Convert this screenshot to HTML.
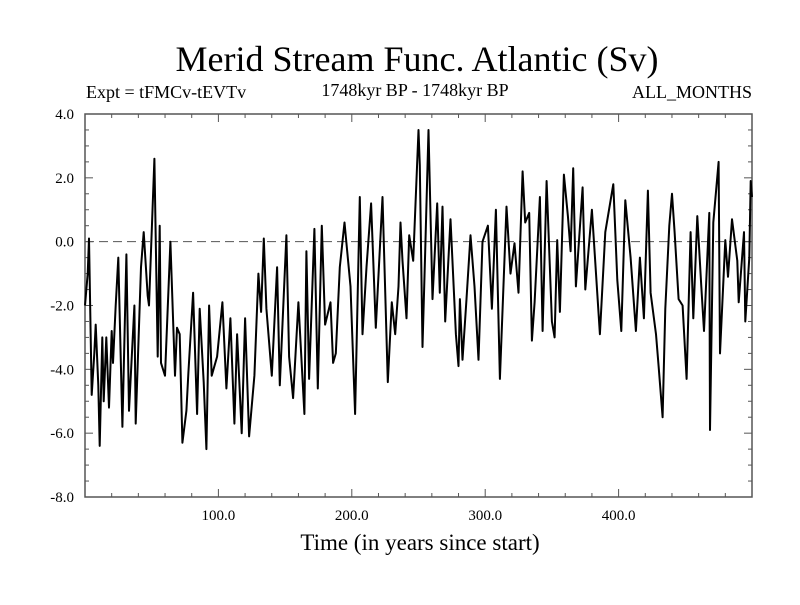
<!DOCTYPE html>
<html><head><meta charset="utf-8"><style>
body{margin:0;background:#fff}
svg text{font-family:"Liberation Serif",serif;fill:#000}
</style></head><body>
<svg id="chart" width="800" height="600">
<rect width="800" height="600" fill="#fff"/>
<text x="417" y="71" font-size="36" text-anchor="middle">Merid Stream Func. Atlantic (Sv)</text>
<text x="86" y="98" font-size="18">Expt = tFMCv-tEVTv</text>
<text x="415" y="96" font-size="18" text-anchor="middle">1748kyr BP - 1748kyr BP</text>
<text x="752" y="98" font-size="18" text-anchor="end">ALL_MONTHS</text>
<text x="420" y="550" font-size="23" text-anchor="middle">Time (in years since start)</text>
<g id="axes"></g>
<g id="series"></g>
</svg>
<script>
const years=[0,2,3,5,7,8,10,11,13,14,16,18,20,21,23,25,28,31,33,37,38,42,44,47,48,52,54.5,56,57,60,64,67.5,69,71,73,76,77.5,81,84,86,89,91,93,95,99,103,106,109,112,114,117.5,120,123,127,130,132,134,136,140,144,146,151,153,156,160,164.5,166,168,172,174.5,177.5,180,184,186,188,191,194.5,199,202.5,206,208,211,214.5,218,223,227,230,232.5,235,236.5,238,241,243,246,250,251,253,255,257.5,260.5,264,266,268,270,274,278,280,281,283,286,289,292,295,298,302,305,308,311,316,319,322,325,328,330,333,335,337,341,343,346,350,352,354,356,359,362,364,366,368,373,375,380,386,390,396,399,402,405,409,413,416,419,422,424,428,430,433,435,438,440,442,445,448,451,454,456,459,462,464,468,468.5,471,475,476,480,482,485,489,490,494,495,498,499,500];
const values=[-2,-1,0.1,-4.8,-3.5,-2.6,-4.5,-6.4,-3,-5,-3,-5.2,-2.8,-3.8,-2,-0.5,-5.8,-0.4,-5.3,-2,-5.7,-0.8,0.3,-1.7,-2,2.6,-3.6,0.5,-3.8,-4.2,0,-4.2,-2.7,-2.9,-6.3,-5.3,-4.1,-1.6,-5.4,-2.1,-4.4,-6.5,-2,-4.2,-3.6,-1.9,-4.6,-2.4,-5.7,-2.9,-6,-2.4,-6.1,-4.2,-1,-2.2,0.1,-2.1,-4.2,-0.8,-4.5,0.2,-3.6,-4.9,-1.9,-5.4,-0.3,-4.3,0.4,-4.6,0.5,-2.6,-1.9,-3.8,-3.5,-0.8,0.6,-1.4,-5.4,1.4,-2.9,-0.8,1.2,-2.7,1.4,-4.4,-1.9,-2.9,-1.4,0.6,-0.6,-2.4,0.2,-0.6,3.5,2.4,-3.3,-0.3,3.5,-1.8,1.2,-1.6,1.1,-2.5,0.7,-2.9,-3.9,-1.8,-3.7,-1.8,0.2,-1.4,-3.7,0,0.5,-2.1,1.0,-4.3,1.1,-1,-0.05,-1.6,2.2,0.6,0.9,-3.1,-1.9,1.4,-2.8,1.9,-2.5,-3.0,0.05,-2.2,2.1,0.8,-0.3,2.3,-1.4,1.7,-1.5,1.0,-2.9,0.3,1.8,-1.2,-2.8,1.3,-0.5,-2.8,-0.5,-2.4,1.6,-1.6,-2.9,-3.9,-5.5,-2.1,0.5,1.5,0.3,-1.8,-2.0,-4.3,0.3,-2.4,0.8,-1.4,-2.8,0.9,-5.9,0.6,2.5,-3.5,0.05,-1.1,0.7,-0.6,-1.9,0.3,-2.5,-0.5,1.9,1.4];
const xTicks=[100,200,300,400];
const xTickLabels=["100.0","200.0","300.0","400.0"];
const yTicks=[4,2,0,-2,-4,-6,-8];
const yTickLabels=["4.0","2.0","0.0","-2.0","-4.0","-6.0","-8.0"];
const L=85,R=752,T=114,B=497,X0=0,X1=500,Y0=-8,Y1=4;
const sx=v=>L+(v-X0)/(X1-X0)*(R-L);
const sy=v=>B-(v-Y0)/(Y1-Y0)*(B-T);
const NS="http://www.w3.org/2000/svg";
function mk(tag,attrs,parent){const e=document.createElementNS(NS,tag);for(const k in attrs)e.setAttribute(k,attrs[k]);parent.appendChild(e);return e;}
const ax=document.getElementById('axes'),sr=document.getElementById('series');
const z=mk('line',{x1:L,x2:R,y1:sy(0),y2:sy(0),stroke:'#555','stroke-width':1,'stroke-dasharray':'9,5'},ax);


for(let v=20;v<500;v+=20){const big=v%100===0,len=big?8:4;
 const t1=mk('line',{x1:sx(v),x2:sx(v),y1:B,y2:B-len,stroke:'#555'},ax);
 
 
 const t2=mk('line',{x1:sx(v),x2:sx(v),y1:T,y2:T+len,stroke:'#555'},ax);
 
 }
for(let v=-7.5;v<4;v+=0.5){const big=Math.abs(v%2)<1e-9,len=big?8:4;
 const t1=mk('line',{x1:L,x2:L+len,y1:sy(v),y2:sy(v),stroke:'#555'},ax);
 
 
 const t2=mk('line',{x1:R,x2:R-len,y1:sy(v),y2:sy(v),stroke:'#555'},ax);
 
 }
xTicks.forEach((v,i)=>{const t=mk('text',{x:sx(v),y:B+23,'font-size':15,'text-anchor':'middle'},ax);t.textContent=xTickLabels[i];
 
 });
yTicks.forEach((v,i)=>{const t=mk('text',{x:L-11,y:sy(v)+5,'font-size':15,'text-anchor':'end'},ax);t.textContent=yTickLabels[i];
 
 });
const fr=mk('rect',{x:L,y:T,width:R-L,height:B-T,fill:'none',stroke:'#555','stroke-width':1.5},ax);


const d=years.map((y,i)=>(i?'L':'M')+sx(y).toFixed(1)+','+sy(values[i]).toFixed(1)).join('');
const p=mk('path',{d:d,fill:'none',stroke:'#000','stroke-width':2,'stroke-linejoin':'round'},sr);


</script>
</body></html>
